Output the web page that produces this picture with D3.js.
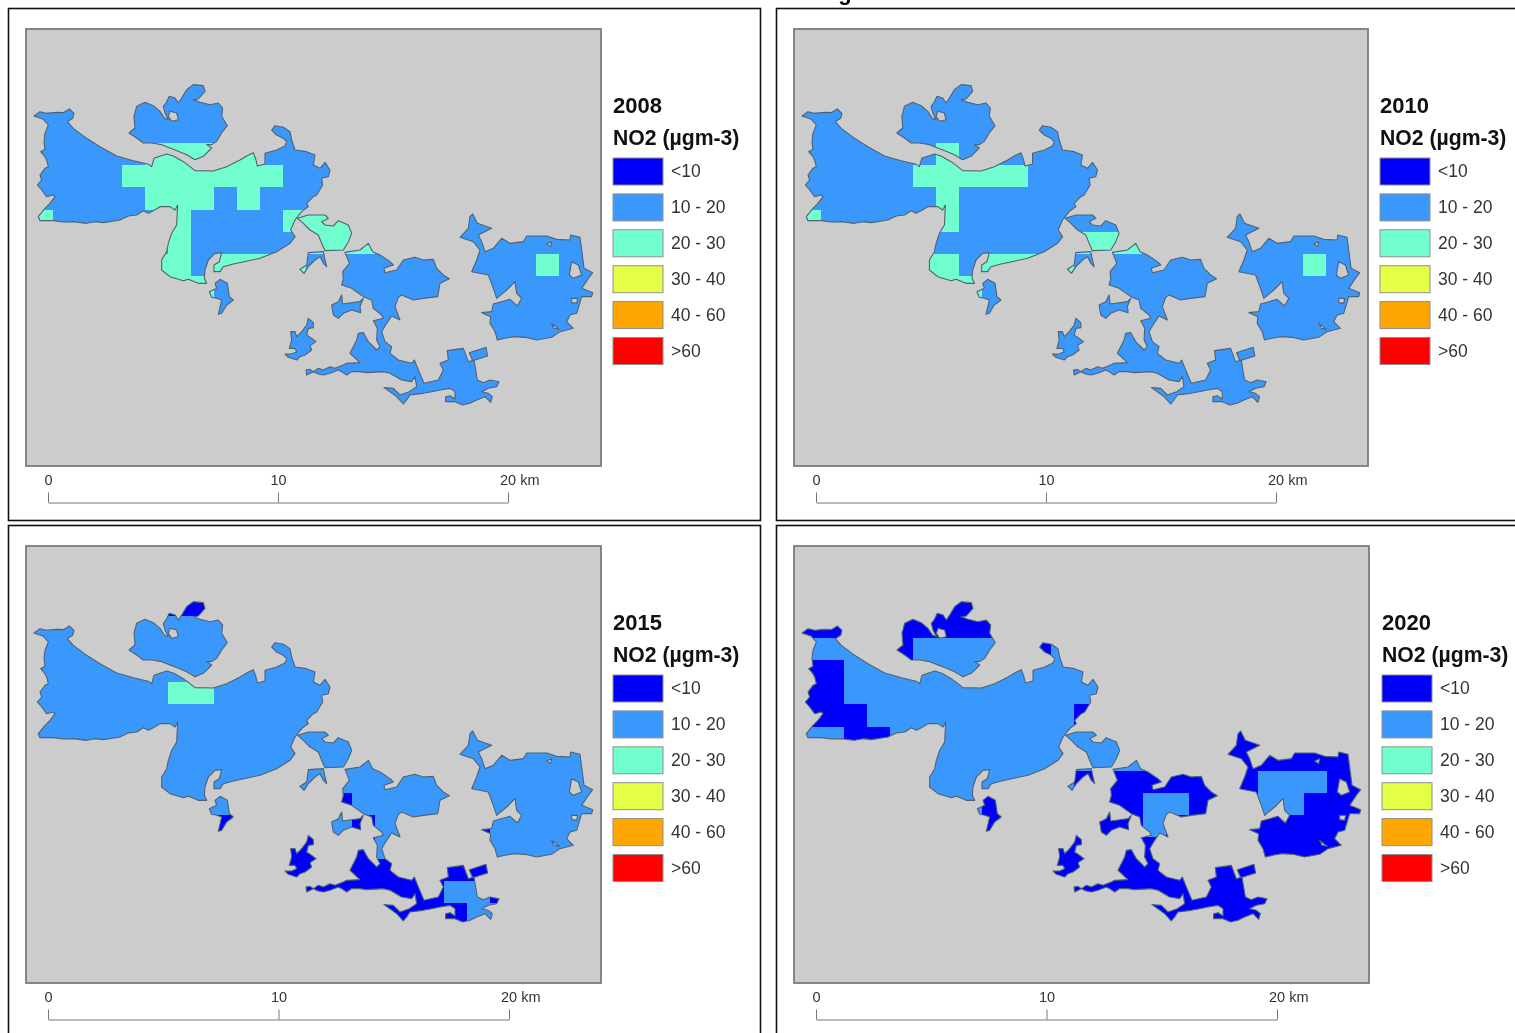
<!DOCTYPE html>
<html><head><meta charset="utf-8">
<script src="https://cdn.jsdelivr.net/npm/d3@7/dist/d3.min.js"></script>
<style>html,body{margin:0;padding:0;background:#fff;overflow:hidden}svg{display:block;filter:blur(0.4px)}
text{font-family:"Liberation Sans",Arial,sans-serif}</style></head><body>
<svg id="c" width="1515" height="1033"></svg>
<script>
// Land outlines, in map units (69 units = 1 km)
const mainBody=[[102,348],[120,335],[140,340],[160,338],[175,337],[190,338],[208,327],[222,340],[218,355],[202,365],[220,385],[260,415],[300,440],[350,468],[400,482],[445,493],[455,500],[462,475],[500,462],[520,468],[550,485],[570,500],[585,512],[640,513],[680,500],[720,480],[740,468],[760,458],[768,480],[772,498],[795,492],[795,460],[830,450],[855,438],[860,425],[850,415],[830,405],[815,390],[825,377],[850,382],[870,395],[875,420],[885,450],[920,455],[945,465],[940,495],[960,505],[975,487],[990,510],[985,530],[965,535],[968,555],[950,585],[940,590],[920,610],[925,620],[905,635],[885,660],[872,690],[885,710],[870,730],[830,755],[780,775],[700,792],[670,800],[660,815],[642,815],[642,795],[658,785],[665,758],[645,760],[625,780],[615,810],[613,835],[620,850],[595,850],[565,838],[550,842],[510,830],[485,810],[485,780],[500,755],[505,730],[515,700],[530,675],[533,615],[525,630],[510,620],[480,620],[460,632],[445,640],[430,632],[410,645],[385,648],[360,660],[310,668],[285,665],[260,670],[220,665],[190,666],[160,662],[120,662],[115,650],[135,625],[150,610],[165,590],[160,585],[140,590],[125,570],[112,555],[125,540],[120,525],[135,505],[145,500],[140,480],[135,470],[122,455],[135,448],[132,425],[135,400],[145,375],[130,358]];
const northIsland=[[387,399],[405,384],[402,349],[410,319],[435,307],[460,317],[480,334],[493,354],[505,359],[495,339],[490,319],[498,309],[508,289],[525,294],[535,309],[545,294],[560,269],[580,254],[610,257],[615,274],[595,297],[580,299],[600,307],[630,314],[655,309],[668,324],[665,349],[682,377],[665,399],[650,424],[635,434],[620,434],[635,444],[610,469],[585,479],[560,464],[535,454],[510,444],[485,434],[455,429],[430,429],[410,414]];
const northHole=[[510,334],[530,339],[535,359],[515,364],[505,349]];
const midIsland=[[893,655],[925,645],[975,645],[985,655],[965,665],[975,675],[1000,678],[1015,662],[1045,675],[1055,700],[1045,725],[1030,750],[975,752],[965,730],[955,705],[930,690],[910,670]];
const tinyIsland=[[925,758],[970,755],[975,780],[980,800],[970,790],[960,770],[945,780],[925,800],[912,820],[900,808],[920,795]];
const southIsland=[[645,850],[660,838],[682,850],[688,890],[700,900],[680,915],[665,940],[655,943],[665,900],[650,895],[635,892],[628,875],[650,865]];
const centralSouth=[[1035,757],[1080,750],[1105,730],[1118,755],[1140,765],[1170,785],[1180,795],[1152,805],[1155,818],[1190,810],[1210,780],[1245,772],[1270,780],[1300,778],[1310,805],[1330,825],[1348,836],[1320,850],[1313,890],[1270,895],[1240,900],[1205,885],[1195,892],[1185,920],[1200,960],[1175,948],[1160,970],[1145,995],[1155,1025],[1175,1040],[1170,1060],[1195,1080],[1235,1090],[1243,1080],[1255,1110],[1272,1150],[1315,1140],[1330,1110],[1320,1090],[1345,1080],[1342,1052],[1390,1045],[1405,1085],[1422,1080],[1432,1140],[1450,1148],[1470,1140],[1497,1145],[1490,1160],[1465,1165],[1445,1175],[1465,1180],[1477,1190],[1472,1207],[1455,1190],[1430,1200],[1410,1210],[1388,1215],[1365,1205],[1337,1205],[1337,1190],[1350,1187],[1365,1197],[1365,1175],[1350,1165],[1320,1170],[1295,1175],[1270,1180],[1230,1185],[1220,1200],[1210,1212],[1190,1190],[1152,1163],[1180,1165],[1200,1185],[1228,1175],[1250,1160],[1245,1130],[1235,1145],[1205,1140],[1170,1120],[1150,1115],[1100,1118],[1080,1115],[1055,1115],[1040,1125],[1025,1115],[1015,1110],[990,1120],[970,1125],[955,1122],[940,1115],[920,1125],[918,1110],[930,1108],[940,1115],[955,1105],[970,1110],[990,1100],[1005,1105],[1030,1095],[1040,1090],[1080,1088],[1050,1060],[1070,1020],[1075,1000],[1090,998],[1105,1025],[1130,1050],[1140,1040],[1130,1020],[1132,985],[1120,962],[1150,955],[1145,945],[1120,925],[1115,900],[1090,890],[1055,865],[1025,855],[1030,835],[1028,815],[1048,790]];
const westIslet=[[1025,885],[1028,912],[1080,905],[1090,895],[1080,920],[1082,938],[1055,930],[1030,940],[1015,955],[1000,945],[995,915],[1015,905]];
const swIsland=[[925,955],[920,975],[905,995],[890,1010],[885,995],[872,995],[875,1020],[868,1045],[885,1045],[890,1055],[875,1062],[855,1062],[865,1072],[890,1080],[900,1070],[915,1065],[935,1050],[930,1037],[948,1025],[935,1015],[920,1005],[925,985],[940,983],[940,968]];
const smallBlock=[[1408,1058],[1458,1042],[1463,1068],[1418,1082]];
const eastIsland=[[1418,642],[1432,670],[1475,685],[1435,705],[1445,725],[1455,755],[1480,745],[1505,715],[1530,730],[1570,725],[1580,708],[1640,708],[1670,718],[1710,720],[1712,705],[1740,712],[1745,750],[1752,805],[1778,818],[1765,835],[1745,865],[1778,878],[1775,890],[1745,890],[1730,940],[1710,945],[1700,965],[1720,985],[1680,995],[1655,1012],[1610,1020],[1575,1012],[1540,1010],[1515,1015],[1492,1020],[1485,995],[1470,970],[1472,950],[1445,938],[1475,935],[1480,912],[1530,898],[1552,918],[1565,895],[1550,880],[1545,845],[1520,870],[1490,895],[1480,865],[1465,825],[1415,815],[1430,780],[1440,750],[1420,725],[1380,712],[1405,685],[1410,650]];
const eastHoles=[[[1715,785],[1735,795],[1745,825],[1720,835],[1708,825]],[[1715,895],[1733,895],[1730,910],[1715,908]],[[1640,732],[1655,725],[1652,740]],[[1655,970],[1678,988],[1662,985]]];

// Legend
const classLabels=["<10","10 - 20","20 - 30","30 - 40","40 - 60",">60"];
const classColors=["#0000fa","#3a97fb","#72ffcf","#e4ff45","#ffa600","#ff0000"];
const years=["2008","2010","2015","2020"];
const scaleTicks=[0,10,20];

// Grid cells as runs: [row, first column, last column]
const green2008=[[0,1,5],[1,0,6],[2,1,3],[2,5,5],[3,-4,-4],[3,2,2],[3,7,9],[4,2,2],[4,8,10],[5,1,2],[5,4,7],[5,18,18],[6,1,3]];
const green2010=[[0,2,2],[1,1,5],[2,2,2],[3,-4,-4],[3,2,2],[4,8,10],[5,1,2],[5,4,7],[5,18,18],[6,1,3]];
const green2015=[[1,2,3]];
const dark2015=[[-3,2,3],[6,9,9],[7,4,4],[7,10,10],[7,13,13],[7,15,15],[8,7,10],[9,7,16],[10,7,13],[10,16,16],[11,7,14],[12,7,14]];
const dark2020=[[-4,-4,6],[-3,-4,6],[-2,-4,6],[-1,0,0],[-1,6,6],[0,-4,-3],[1,-4,-3],[2,-4,-2],[2,8,8],[3,-2,-1],[3,14,23],[4,14,23],[5,8,15],[5,19,23],[6,4,4],[6,8,10],[6,13,15],[6,18,23],[7,3,4],[7,8,10],[7,12,23],[8,7,23],[9,7,23],[10,7,23],[11,7,23],[12,7,23],[13,7,23]];
const yearCells={
  "2008":[[2,green2008]],
  "2010":[[2,green2010]],
  "2015":[[2,green2015],[0,dark2015]],
  "2020":[[0,dark2020]]
};

const landRings=[mainBody,northIsland,northHole,midIsland,tinyIsland,southIsland,centralSouth,westIslet,swIsland,smallBlock,eastIsland,...eastHoles];

// Layout
const panels=[
 {year:"2008",box:[8.5,8.5,752,512],map:[26,29,601,466],leg:613,top:0,bar:[48,508]},
 {year:"2010",box:[776.5,8.5,760,512],map:[794,29,1368,466],leg:1380,top:0,bar:[816,1276]},
 {year:"2015",box:[8.5,525.5,752,530],map:[26,546,601,983],leg:613,top:517,bar:[48,509]},
 {year:"2020",box:[776.5,525.5,760,530],map:[794,546,1369,983],leg:1382,top:517,bar:[816,1277]}
];
const svg=d3.select("#c");
svg.append("text").attr("x",845).attr("y",0).attr("text-anchor","middle")
  .attr("font-size",22).attr("font-weight","bold").attr("fill","#000").text("g");

const colU=d3.scaleLinear().domain([0,1]).range([366,435]);
const rowU=d3.scaleLinear().domain([0,1]).range([430,496.2]);

panels.forEach((p,i)=>{
  const g=svg.append("g");
  g.append("rect").attr("x",p.box[0]).attr("y",p.box[1]).attr("width",p.box[2]).attr("height",p.box[3])
    .attr("fill","#fff").attr("stroke","#111").attr("stroke-width",1.6);
  g.append("rect").attr("x",p.map[0]).attr("y",p.map[1]).attr("width",p.map[2]-p.map[0]).attr("height",p.map[3]-p.map[1])
    .attr("fill","#cccccc").attr("stroke","#7c7c7c").attr("stroke-width",1.8);

  const x=d3.scaleLinear().domain([78,1803]).range([p.map[0],p.map[2]]);
  const y=d3.scaleLinear().domain([87,1398]).range([p.map[1],p.map[3]]);
  const ring=d3.line().x(d=>x(d[0])).y(d=>y(d[1])).curve(d3.curveLinearClosed);
  const landPath=landRings.map(ring).join("");

  const id="land"+i;
  g.append("clipPath").attr("id",id).append("path").attr("d",landPath).attr("clip-rule","evenodd");
  g.append("path").attr("d",landPath).attr("fill",classColors[1]).attr("fill-rule","evenodd");
  const cells=g.append("g").attr("clip-path",`url(#${id})`).attr("shape-rendering","crispEdges");
  yearCells[p.year].forEach(([cls,runs])=>{
    cells.selectAll(null).data(runs).join("rect")
      .attr("x",d=>x(colU(d[1])))
      .attr("y",d=>y(rowU(d[0])))
      .attr("width",d=>x(colU(d[2]+1))-x(colU(d[1])))
      .attr("height",d=>y(rowU(d[0]+1))-y(rowU(d[0])))
      .attr("fill",classColors[cls]);
  });
  g.append("path").attr("d",landPath).attr("fill","none").attr("stroke","#4f6274").attr("stroke-width",1.1).attr("stroke-linejoin","round");

  // Legend
  const lg=g.append("g");
  const t=p.top;
  lg.append("text").attr("x",p.leg).attr("y",113+t).attr("font-size",22).attr("font-weight","bold").attr("fill","#111").text(p.year);
  lg.append("text").attr("x",p.leg).attr("y",145+t).attr("font-size",21.2).attr("font-weight","bold").attr("fill","#111").text("NO2 (µgm-3)");
  const band=d3.scalePoint().domain(classLabels).range([158+t,337.5+t]);
  const items=lg.selectAll(null).data(classLabels).join("g");
  items.append("rect").attr("x",p.leg).attr("y",d=>band(d)).attr("width",50).attr("height",27)
    .attr("fill",(d,j)=>classColors[j]).attr("stroke","#8f8f8f").attr("stroke-width",1);
  items.append("text").attr("x",p.leg+58).attr("y",d=>band(d)+19).attr("font-size",17.5).attr("fill","#333").text(d=>d);

  // Scale bar
  const km=d3.scaleLinear().domain([0,20]).range(p.bar);
  const ax=g.append("g").attr("transform",`translate(0,${502.5+t})`)
    .call(d3.axisTop(km).tickValues(scaleTicks).tickSize(10).tickSizeOuter(0).tickPadding(8).tickFormat(d=>d===20?"20 km":d));
  ax.select(".domain").attr("stroke","#777");
  ax.selectAll(".tick line").attr("stroke","#777");
  ax.selectAll("text").attr("font-size",14.5).attr("fill","#333").attr("font-family",'"Liberation Sans",Arial,sans-serif');
  ax.selectAll(".tick").filter(d=>d===20).select("text").attr("text-anchor","start").attr("dx",-8.5);
});
</script></body></html>
